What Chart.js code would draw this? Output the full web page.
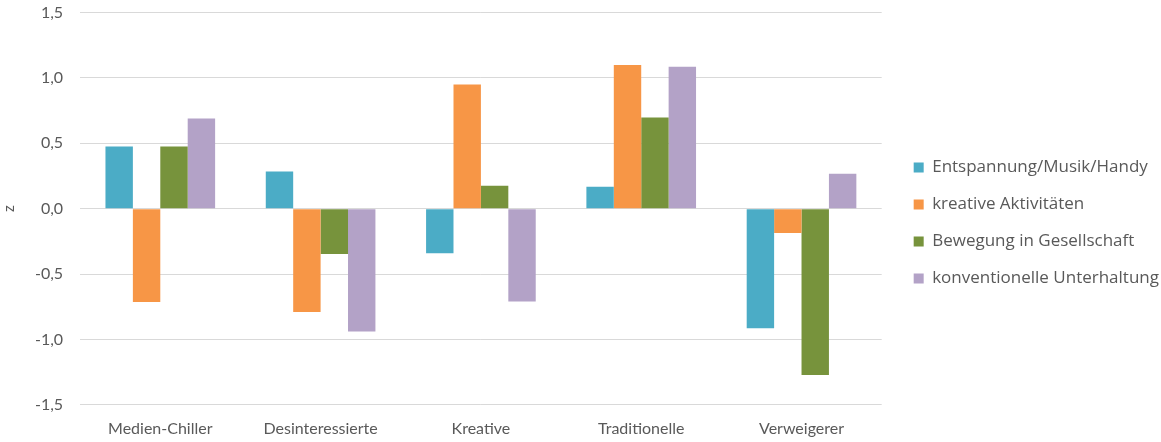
<!DOCTYPE html>
<html>
<head>
<meta charset="utf-8">
<script src="https://cdn.jsdelivr.net/npm/chart.js@4.4.1/dist/chart.umd.min.js"></script>
<style>
  html, body { margin: 0; padding: 0; background: #fff; }
  #outer { width: 1161px; height: 442px; overflow: hidden; }
  #wrap { width: 1161px; height: 456px; margin-top: -14px; position: relative; }
</style>
</head>
<body>
<div id="outer"><div id="wrap"><canvas id="chart"></canvas></div></div>
<script>
// groups on the x axis
var categories = ['Medien-Chiller', 'Desinteressierte', 'Kreative', 'Traditionelle', 'Verweigerer'];

// z-values per series
var entspannung = [0.475, 0.284, -0.34, 0.168, -0.914];
var kreativ     = [-0.713, -0.79, 0.95, 1.10, -0.186];
var bewegung    = [0.475, -0.347, 0.176, 0.697, -1.272];
var unterhaltung = [0.69, -0.94, -0.71, 1.086, 0.268];

var seriesNames = ['Entspannung/Musik/Handy', 'kreative Aktivitäten', 'Bewegung in Gesellschaft', 'konventionelle Unterhaltung'];
var seriesColors = ['#4BACC6', '#F79646', '#77933C', '#B3A2C7'];

var yTicks = [-1.5, -1, -0.5, 0, 0.5, 1, 1.5];

var allSeries = [entspannung, kreativ, bewegung, unterhaltung];
var datasets = [];
for (var i = 0; i < allSeries.length; i++) {
    datasets.push({
        label: seriesNames[i],
        data: allSeries[i],
        backgroundColor: seriesColors[i],
        borderWidth: 0,
        barPercentage: 1,
        categoryPercentage: 0.684
    });
}

var textColor = '#595959';

// nudge the legend down and right a little, like in the original
var legendShift = {
    id: 'legendShift',
    afterLayout: function (chart) {
        chart.legend.top += 8;
        chart.legend.bottom += 8;
        chart.legend.left += 12;
        chart.legend.right += 12;
    }
};

new Chart(document.getElementById('chart'), {
    type: 'bar',
    data: { labels: categories, datasets: datasets },
    plugins: [legendShift],
    options: {
        responsive: true,
        maintainAspectRatio: false,
        animation: false,
        layout: { padding: { top: 0, right: 4, left: 0, bottom: -2 } },
        plugins: {
            tooltip: { enabled: false },
            legend: {
                position: 'right',
                align: 'center',
                labels: {
                    boxWidth: 10,
                    boxHeight: 10,
                    padding: 20,
                    color: textColor,
                    font: { family: 'Open Sans', size: 17 }
                }
            }
        },
        scales: {
            x: {
                grid: { display: false },
                border: { display: false },
                ticks: {
                    color: textColor,
                    padding: 6,
                    font: { family: 'Lato', size: 16 }
                }
            },
            y: {
                min: -1.5,
                max: 1.5,
                afterBuildTicks: function (axis) {
                    axis.ticks = yTicks.map(function (v) { return { value: v }; });
                },
                grid: { color: '#D9D9D9', lineWidth: 1, drawTicks: false },
                border: { display: false },
                ticks: {
                    color: textColor,
                    padding: 17,
                    font: { family: 'Lato', size: 16 },
                    callback: function (v) { return v.toFixed(1).replace('.', ','); }
                },
                title: {
                    display: true,
                    text: 'z',
                    color: textColor,
                    padding: 0,
                    font: { family: 'Lato', size: 15 }
                }
            }
        }
    }
});
</script>
</body>
</html>
